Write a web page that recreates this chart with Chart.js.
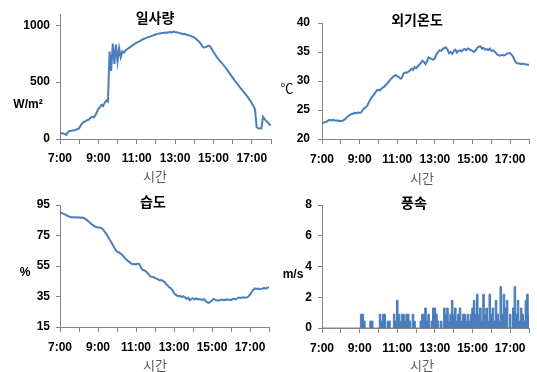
<!DOCTYPE html>
<html>
<head>
<meta charset="utf-8">
<script src="https://cdn.jsdelivr.net/npm/chart.js@4"></script>
<style>
  html, body { margin: 0; padding: 0; background: #fff; }
  body { width: 537px; height: 372px; position: relative; overflow: hidden; }
  canvas { position: absolute; }
</style>
</head>
<body>
<canvas id="solar"></canvas>
<canvas id="temp"></canvas>
<canvas id="humid"></canvas>
<canvas id="wind"></canvas>
<script>
// Sampling interval of the logged series (minutes from 7:00)
const STEP_MIN = 5;
const hourLabels = ['7:00', '9:00', '11:00', '13:00', '15:00', '17:00'];

// Y-axis tick values of each panel
const solarTicks = [0, 500, 1000];
const tempTicks = [20, 25, 30, 35, 40];
const humidTicks = [15, 35, 55, 75, 95];
const windTicks = [0, 2, 4, 6, 8];

// 일사량 (W/m²)
const solarRadiation = [
  52, 50, 48, 45, 36, 62, 70, 72, 75, 78, 82, 88,
  95, 120, 140, 150, 158, 165, 170, 185, 195, 190, 205, 235,
  265, 280, 300, 290, 320, 340, 330, 770, 600, 840, 660, 830,
  680, 800, 720, 770, 760, 780, 790, 800, 810, 820, 830, 840,
  848, 855, 862, 870, 878, 884, 890, 896, 900, 905, 910, 915,
  920, 925, 928, 930, 933, 935, 938, 936, 940, 942, 938, 945,
  942, 940, 936, 930, 928, 922, 925, 918, 915, 912, 905, 900,
  893, 882, 870, 856, 840, 815, 805, 808, 815, 822, 815, 790,
  765, 745, 722, 705, 690, 672, 655, 640, 620, 600, 580, 560,
  540, 520, 500, 482, 465, 447, 430, 412, 395, 378, 358, 338,
  315, 290, 262, 105, 95, 92, 95, 195, 175, 160, 145, 130,
  120
];

// 외기온도 (℃)
const outsideTemp = [
  22.8, 22.8, 22.9, 23.0, 23.2, 23.3, 23.2, 23.3, 23.2, 23.2, 23.2, 23.1,
  23.1, 23.1, 23.3, 23.5, 23.8, 24.0, 24.2, 24.3, 24.4, 24.5, 24.4, 24.6,
  24.5, 24.6, 25.0, 25.3, 25.5, 25.8, 26.4, 26.9, 27.3, 27.6, 28.0, 28.4,
  28.5, 28.4, 28.7, 28.9, 29.1, 29.4, 29.7, 30.0, 30.4, 30.6, 30.9, 31.0,
  30.8, 30.7, 30.4, 30.6, 31.3, 31.5, 31.4, 31.6, 31.8, 32.1, 31.9, 32.4,
  32.2, 32.5, 32.8, 33.1, 33.5, 33.3, 32.9, 33.4, 34.1, 33.9, 33.8, 33.7,
  33.9, 34.6, 35.0, 35.3, 35.2, 35.5, 35.7, 35.8, 35.4, 34.8, 35.0, 34.7,
  35.2, 35.4, 34.9, 35.2, 35.3, 35.1, 35.4, 35.5, 35.3, 35.6, 35.5, 35.3,
  35.2, 35.0, 35.3, 35.7, 35.9, 36.0, 35.6, 35.7, 35.4, 35.5, 35.3, 35.6,
  35.2, 35.3, 35.1, 34.8, 34.5, 34.4, 34.4, 34.5, 34.4, 34.5, 34.7, 34.8,
  34.8, 34.5, 34.1, 33.5, 33.1, 33.0, 33.0, 32.9, 33.0, 32.9, 32.9, 32.8,
  32.8
];

// 습도 (%)
const humidity = [
  90.2, 89.8, 89.3, 88.9, 88.3, 87.8, 87.4, 87.0, 86.9, 86.9, 86.8, 86.9,
  86.8, 86.7, 86.8, 86.5, 85.9, 85.1, 84.2, 83.3, 82.4, 81.6, 80.9, 80.6,
  80.3, 80.3, 80.0, 79.2, 77.8, 76.4, 74.8, 72.9, 71.3, 69.4, 67.6, 65.7,
  64.4, 64.1, 63.3, 62.6, 61.4, 60.0, 59.3, 58.2, 57.6, 56.6, 56.1, 56.3,
  56.0, 56.5, 56.4, 54.2, 52.6, 52.2, 51.7, 50.8, 49.5, 48.2, 47.9, 47.8,
  47.1, 46.7, 46.2, 45.5, 45.9, 45.1, 44.7, 43.2, 42.3, 40.9, 40.5, 39.3,
  37.2, 36.2, 35.6, 35.0, 35.4, 34.6, 35.2, 34.4, 33.5, 34.2, 32.6, 33.5,
  33.8, 33.2, 33.7, 33.1, 33.4, 33.0, 32.7, 33.3, 32.1, 31.2, 30.8, 31.6,
  32.4, 33.4, 33.0, 32.5, 32.2, 32.6, 32.9, 32.8, 32.6, 33.1, 32.9, 33.0,
  32.6, 33.3, 33.5, 33.1, 34.0, 34.3, 34.1, 34.4, 34.5, 34.2, 34.4, 35.0,
  36.2, 37.8, 39.4, 40.3, 40.0, 40.2, 39.8, 40.0, 40.3, 40.5, 40.2, 40.8,
  41.0
];

// 풍속 (m/s)
const windSpeed = [
  0, 0, 0, 0, 0, 0, 0, 0, 0, 0, 0, 0,
  0, 0, 0, 0, 0, 0, 0, 0, 0, 0, 0, 0,
  0, 0.9, 0.9, 0.45, 0, 0, 0, 0.45, 0.45, 0, 0, 0,
  0, 0.9, 0.45, 0.9, 0.9, 0, 0.45, 0.45, 0, 0, 0.9, 0.45,
  1.8, 0.9, 0.45, 0.9, 0.9, 0.45, 0.9, 0.9, 0.45, 0, 0.9, 0.45,
  0, 0, 0, 0.45, 0.9, 0.9, 1.3, 0.45, 0.9, 0, 0.45, 1.3,
  1.3, 0.9, 0.45, 0, 0.45, 0, 1.3, 0.9, 1.3, 0.45, 0.9, 1.8,
  0.9, 1.3, 0.45, 0.9, 1.3, 0.45, 0.9, 0.9, 0.45, 0.9, 0.45, 0.9,
  1.3, 1.8, 0.9, 2.2, 0.9, 1.3, 0.45, 2.2, 0.9, 1.3, 0.45, 2.2,
  0.9, 1.3, 0.45, 1.8, 0.9, 0.45, 2.7, 0.9, 2.2, 1.3, 1.8, 0,
  0.9, 0, 1.3, 2.7, 0.9, 1.8, 0.45, 1.3, 0.9, 0.45, 1.8, 2.2,
  0.9
];

const LINE_BLUE = '#4a7ebb';
const AXIS_GREY = '#868686';
const NUM_FONT = "'Liberation Sans Narrow', 'Liberation Sans', Arial, sans-serif";
const KR_FONT = "'Noto Sans CJK KR', 'Noto Sans', sans-serif";

// Draws panel title, unit and axis caption as canvas text
const panelText = {
  id: 'panelText',
  afterDraw(chart, args, opts) {
    const ctx = chart.ctx;
    (opts.items || []).forEach(it => {
      ctx.save();
      ctx.font = it.font;
      ctx.fillStyle = it.color || '#000';
      ctx.textAlign = 'center';
      ctx.textBaseline = 'middle';
      ctx.fillText(it.text, it.x - opts.ox, it.y - opts.oy);
      ctx.restore();
    });
  }
};
Chart.register(panelText);

function makePanel(id, box, area, y, values, style, texts, xLabelPad) {
  const cv = document.getElementById(id);
  cv.width = box.w;
  cv.height = box.h;
  cv.style.left = box.x + 'px';
  cv.style.top = box.y + 'px';

  return new Chart(cv, {
    type: 'line',
    data: {
      datasets: [Object.assign({
        data: values.map((v, i) => ({ x: i * STEP_MIN, y: v })),
        pointRadius: 0,
        tension: 0
      }, style)]
    },
    options: {
      responsive: false,
      animation: false,
      devicePixelRatio: 1,
      layout: { padding: { left: 0, top: area.t - box.y, right: box.x + box.w - area.r, bottom: 0 } },
      plugins: {
        legend: { display: false },
        tooltip: { enabled: false },
        panelText: { ox: box.x, oy: box.y, items: texts }
      },
      scales: {
        x: {
          type: 'linear',
          min: 0,
          max: 660,
          afterFit: s => { s.height = box.y + box.h - area.b; },
          ticks: {
            stepSize: 60,
            autoSkip: false,
            maxRotation: 0,
            padding: xLabelPad,
            color: '#000',
            font: { family: NUM_FONT, size: 12, weight: 'bold' },
            callback: v => (v % 120 === 0 ? hourLabels[v / 120] : '')
          },
          grid: { drawOnChartArea: false, drawTicks: true, tickLength: 5, color: AXIS_GREY },
          border: { color: AXIS_GREY, width: 1 }
        },
        y: {
          min: y.min,
          max: y.max,
          afterFit: s => { s.width = area.l - box.x; },
          afterBuildTicks: s => { s.ticks = y.ticks.map(v => ({ value: v })); },
          ticks: {
            autoSkip: false,
            padding: y.pad,
            color: '#000',
            font: { family: NUM_FONT, size: 12, weight: 'bold' },
            callback: v => String(v)
          },
          grid: { drawOnChartArea: false, drawTicks: true, tickLength: 4, color: AXIS_GREY },
          border: { color: AXIS_GREY, width: 1 }
        }
      }
    }
  });
}

const lineStyle = { borderColor: LINE_BLUE, borderWidth: 2, fill: false };
const titleFont = "bold 14px " + KR_FONT;
const unitFont = "bold 12px " + NUM_FONT;
const captionFont = "13px " + KR_FONT;
const captionColor = '#595959';

makePanel('solar',
  { x: 0, y: 0, w: 280, h: 186 },
  { l: 60, t: 14, r: 271, b: 139 },
  { min: 0, max: 1100, ticks: solarTicks, pad: 6 },
  solarRadiation, lineStyle,
  [
    { text: '일사량', x: 155, y: 18, font: titleFont },
    { text: 'W/m²', x: 28, y: 105, font: unitFont },
    { text: '시간', x: 155, y: 176, font: captionFont, color: captionColor }
  ], 7);

makePanel('temp',
  { x: 270, y: 0, w: 267, h: 186 },
  { l: 322, t: 23, r: 537, b: 139 },
  { min: 20, max: 40, ticks: tempTicks, pad: 8 },
  outsideTemp, lineStyle,
  [
    { text: '외기온도', x: 417, y: 20, font: titleFont },
    { text: '℃', x: 287, y: 88, font: "13px " + KR_FONT },
    { text: '시간', x: 422, y: 178, font: captionFont, color: captionColor }
  ], 8);

makePanel('humid',
  { x: 0, y: 186, w: 280, h: 186 },
  { l: 60, t: 205, r: 269, b: 327 },
  { min: 15, max: 95, ticks: humidTicks, pad: 6 },
  humidity, lineStyle,
  [
    { text: '습도', x: 153, y: 202, font: titleFont },
    { text: '%', x: 25, y: 273, font: unitFont },
    { text: '시간', x: 155, y: 365, font: captionFont, color: captionColor }
  ], 8);

makePanel('wind',
  { x: 270, y: 186, w: 267, h: 186 },
  { l: 322, t: 205, r: 537, b: 328 },
  { min: 0, max: 8, ticks: windTicks, pad: 6 },
  windSpeed,
  { borderColor: LINE_BLUE, borderWidth: 1, fill: 'origin', backgroundColor: LINE_BLUE, stepped: 'middle' },
  [
    { text: '풍속', x: 414, y: 203, font: titleFont },
    { text: 'm/s', x: 293, y: 275, font: unitFont },
    { text: '시간', x: 422, y: 365, font: captionFont, color: captionColor }
  ], 8);
</script>
</body>
</html>
